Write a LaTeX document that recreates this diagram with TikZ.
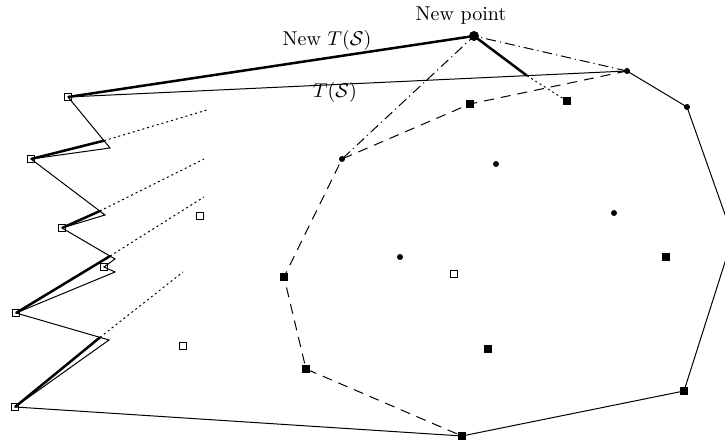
\documentclass[tikz,border=0pt]{standalone}
\usetikzlibrary{calc}
\begin{document}
\begin{tikzpicture}[x=0.5pt,y=-0.5pt,
  hollowpt/.style={draw,rectangle,inner sep=0pt,minimum size=3.8pt,line width=0.4pt},
  filledpt/.style={fill,rectangle,inner sep=0pt,minimum size=4.4pt},
  dotpt/.style={fill,circle,inner sep=0pt,minimum size=3pt},
  bigpt/.style={fill,circle,inner sep=0pt,minimum size=5pt},
  hullline/.style={line width=0.5pt,line join=miter},
  newline/.style={line width=1.25pt},
  dotline/.style={line width=0.5pt,dash pattern=on 1pt off 1.5pt},
  dashline/.style={line width=0.5pt,dash pattern=on 5pt off 3.5pt},
  dashdotline/.style={line width=0.5pt,dash pattern=on 5pt off 2pt on 0.6pt off 2pt}]
\useasboundingbox (0,0) rectangle (725,442);
\clip (0,0) rectangle (725,442);

\node [hollowpt] (a1) at (68,97) {};
\node [hollowpt] (a2) at (31,159) {};
\node [hollowpt] (a3) at (62,228) {};
\node [hollowpt] (a4) at (104,267) {};
\node [hollowpt] (a5) at (16,313) {};
\node [hollowpt] (a6) at (15,407) {};
\node [hollowpt] (h1) at (200,216) {};
\node [hollowpt] (h2) at (183,346) {};
\node [hollowpt] (h3) at (454,274) {};

\coordinate (t1) at (110,148);
\coordinate (t2) at (105,215);
\coordinate (t3) at (115,259);
\coordinate (t4) at (115,272);
\coordinate (t5) at (109,340);

\node [dotpt] (c1) at (627,71) {};
\node [dotpt] (c2) at (687,107) {};
\coordinate (c3) at (733,237);
\node [filledpt] (c4) at (684,391) {};
\node [filledpt] (c5) at (462,436) {};

\node [bigpt] (np) at (474,36) {};

\node [filledpt] (f1) at (470,104) {};
\node [filledpt] (f2) at (567,101) {};
\node [filledpt] (f3) at (284,277) {};
\node [filledpt] (f4) at (306,369) {};
\node [filledpt] (f5) at (488,349) {};
\node [filledpt] (f6) at (666,257) {};

\node [dotpt] (e1) at (342,159) {};
\node [dotpt] (e2) at (496,164) {};
\node [dotpt] (e3) at (614,213) {};
\node [dotpt] (e4) at (400,257) {};

\coordinate (p1) at ($ (a1.center)!0.857!(t1) $);
\coordinate (p2) at ($ (a2.center)!0.93!(t2) $);
\coordinate (p3) at ($ (a3.center)!0.906!(t3) $);
\coordinate (p4) at ($ (a5.center)!0.903!(t5) $);
\coordinate (q) at ($ (a1.center)!0.821!(c1.center) $);

\draw [hullline] (a1.center) -- (t1) -- (a2.center) -- (t2) -- (a3.center) -- (t3) -- (a4.center) -- (t4) -- (a5.center) -- (t5) -- (a6.center) -- (c5.center) -- (c4.center) -- (c3) -- (c2.center) -- (c1.center) -- cycle;

\draw [newline] (a1.center) -- (np.center) -- (q);
\draw [newline] (a2.center) -- (p1);
\draw [newline] (a3.center) -- (p2);
\draw [newline] (a5.center) -- (p3);
\draw [newline] (a6.center) -- (p4);

\draw [dotline] (p1) -- (207,110);
\draw [dotline] (p2) -- (204,159);
\draw [dotline] (p3) -- (204,197);
\draw [dotline] (p4) -- (183,272);
\draw [dotline] (q) -- (f2.center);

\draw [dashline] (c1.center) -- (f1.center) -- (e1.center) -- (f3.center) -- (f4.center) -- (c5.center);
\draw [dashdotline] (c1.center) -- (np.center) -- (e1.center);

\node (newts) at (327,41) {New $T(\mathcal{S})$};
\node (ts) at (335,93) {$T(\mathcal{S})$};
\node (newpt) at (461,16) {New point};

\end{tikzpicture}
\end{document}
